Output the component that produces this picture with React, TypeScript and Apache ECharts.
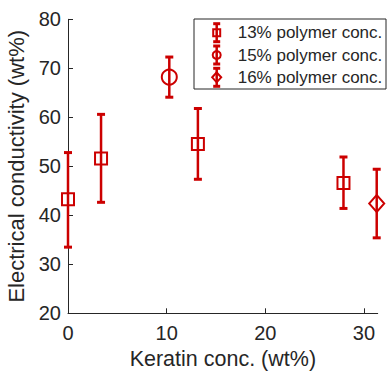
import React, { useEffect, useRef } from "react";
import * as echarts from "echarts";

const seriesNames = ["13% polymer conc.", "15% polymer conc.", "16% polymer conc."];
const symbols = ["rect", "circle", "diamond"];
const symbolSizes: (number | number[])[] = [12, 15, [15, 17]];

// [keratin wt%, mean, low, high]
const s13 = [
  [0, 43.3, 33.5, 52.8],
  [3.35, 51.6, 42.65, 60.6],
  [13.17, 54.55, 47.35, 61.8],
  [27.93, 46.6, 41.4, 51.9],
];
const s15 = [[10.27, 68.2, 64.1, 72.3]];
const s16 = [[31.3, 42.4, 35.4, 49.4]];
const allSeries = [s13, s15, s16];

const xTicks = [0, 10, 20, 30];
const yTicks = [20, 30, 40, 50, 60, 70, 80];

const RED = "#CC0000";
const INK = "#262626";
const FONT = "Liberation Sans, Arial, sans-serif";

export default function App() {
  const ref = useRef<HTMLDivElement>(null);
  useEffect(() => {
    const chart = echarts.init(ref.current!, null, { renderer: "svg" });
    const series: any[] = [];
    allSeries.forEach((data, i) => {
      series.push({
        type: "custom",
        name: seriesNames[i] + " err",
        data: data.map((d) => [d[0], d[2], d[3]]),
        z: 2,
        renderItem: (params: any, api: any) => {
          const x = api.value(0);
          const lo = api.coord([x, api.value(1)]);
          const hi = api.coord([x, api.value(2)]);
          const cw = 4;
          return {
            type: "group",
            children: [
              { type: "line", shape: { x1: lo[0], y1: lo[1], x2: hi[0], y2: hi[1] }, style: { stroke: RED, lineWidth: 2.5 } },
              { type: "line", shape: { x1: lo[0] - cw, y1: lo[1], x2: lo[0] + cw, y2: lo[1] }, style: { stroke: RED, lineWidth: 3 } },
              { type: "line", shape: { x1: hi[0] - cw, y1: hi[1], x2: hi[0] + cw, y2: hi[1] }, style: { stroke: RED, lineWidth: 3 } },
            ],
          };
        },
      });
      series.push({
        type: "scatter",
        name: seriesNames[i],
        data: data.map((d) => [d[0], d[1]]),
        symbol: symbols[i],
        symbolSize: symbolSizes[i],
        z: 3,
        itemStyle: { color: "transparent", borderColor: RED, borderWidth: 2, opacity: 1 },
      });
    });

    // legend drawn as graphic
    const lx = 194, ly = 19, lw = 192, lh = 70;
    const legendChildren: any[] = [
      { type: "rect", shape: { x: lx, y: ly, width: lw, height: lh }, style: { fill: "#fff", stroke: INK, lineWidth: 1 } },
    ];
    seriesNames.forEach((name, i) => {
      const yc = 32.7 + i * 22.3;
      const ix = 216.7;
      legendChildren.push(
        { type: "line", shape: { x1: ix, y1: yc - 9, x2: ix, y2: yc + 9 }, style: { stroke: RED, lineWidth: 2.5 } },
        { type: "line", shape: { x1: ix - 3.5, y1: yc - 9, x2: ix + 3.5, y2: yc - 9 }, style: { stroke: RED, lineWidth: 3 } },
        { type: "line", shape: { x1: ix - 3.5, y1: yc + 9, x2: ix + 3.5, y2: yc + 9 }, style: { stroke: RED, lineWidth: 3 } }
      );
      if (i === 0) {
        legendChildren.push({ type: "rect", shape: { x: ix - 3.5, y: yc - 3.5, width: 7, height: 7 }, style: { fill: "none", stroke: RED, lineWidth: 2 } });
      } else if (i === 1) {
        legendChildren.push({ type: "circle", shape: { cx: ix, cy: yc, r: 4 }, style: { fill: "none", stroke: RED, lineWidth: 2 } });
      } else {
        legendChildren.push({ type: "polygon", shape: { points: [[ix, yc - 5], [ix + 4.5, yc], [ix, yc + 5], [ix - 4.5, yc]] }, style: { fill: "none", stroke: RED, lineWidth: 2 } });
      }
      legendChildren.push({
        type: "text",
        x: 237.7,
        y: yc,
        style: { text: name, fill: INK, fontSize: 17, fontFamily: FONT, verticalAlign: "middle", align: "left" },
      });
    });

    chart.setOption({
      animation: false,
      backgroundColor: "#fff",
      grid: { left: 68, right: 9.3, top: 19.3, bottom: 58.7, containLabel: false, outerBoundsMode: "none" },
      xAxis: {
        type: "value",
        min: xTicks[0],
        max: 31.4,
        interval: 10,
        name: "Keratin conc. (wt%)",
        nameLocation: "middle",
        nameGap: 35,
        nameTextStyle: { color: INK, fontSize: 21.5, lineHeight: 22, fontFamily: FONT },
        axisLine: { show: true, lineStyle: { color: INK, width: 1 } },
        axisTick: { show: true, inside: true, length: 5, lineStyle: { color: INK } },
        axisLabel: { color: INK, fontSize: 20, margin: 10, fontFamily: FONT, showMaxLabel: false,
          formatter: (v: number) => (xTicks.includes(v) ? String(v) : "") },
        splitLine: { show: false },
      },
      yAxis: {
        type: "value",
        min: yTicks[0],
        max: yTicks[yTicks.length - 1],
        interval: 10,
        name: "Electrical conductivity (wt%)",
        nameLocation: "middle",
        nameGap: 33,
        nameTextStyle: { color: INK, fontSize: 22, fontFamily: FONT },
        axisLine: { show: true, lineStyle: { color: INK, width: 1 } },
        axisTick: { show: true, inside: true, length: 5, lineStyle: { color: INK } },
        axisLabel: { color: INK, fontSize: 20, margin: 7, fontFamily: FONT },
        splitLine: { show: false },
      },
      series,
      graphic: [{ type: "group", z: 100, children: legendChildren }],
    });
    return () => chart.dispose();
  }, []);
  return <div ref={ref} style={{ width: 387, height: 372, position: "absolute", left: 0, top: 0 }} />;
}
